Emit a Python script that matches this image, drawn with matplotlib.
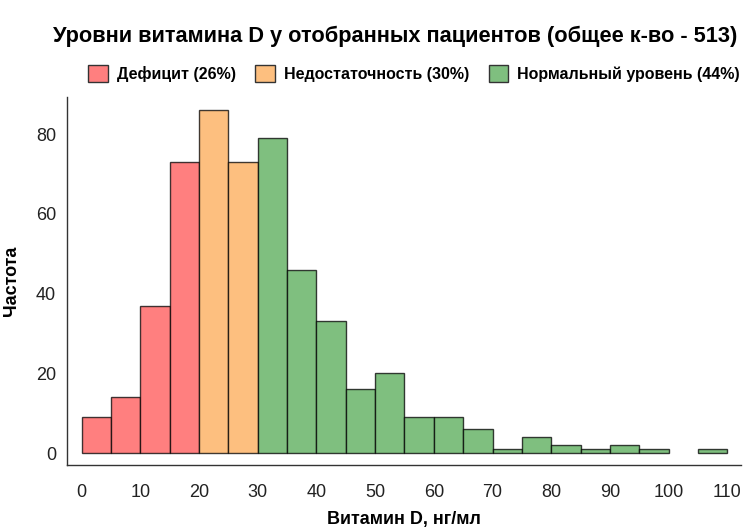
import matplotlib
matplotlib.use("Agg")
import matplotlib.pyplot as plt
from matplotlib.patches import Patch

plt.rcParams['font.family'] = ['Liberation Sans', 'DejaVu Sans']

bin_left = [0, 5, 10, 15, 20, 25, 30, 35, 40, 45, 50, 55, 60, 65, 70, 75, 80, 85, 90, 95, 100, 105]
counts = [9, 14, 37, 73, 86, 73, 79, 46, 33, 16, 20, 9, 9, 6, 1, 4, 2, 1, 2, 1, 0, 1]
bin_width = 5
categories = ["Дефицит (26%)", "Недостаточность (30%)", "Нормальный уровень (44%)"]
cat_colors = ["#ff7f7f", "#fdbf7f", "#7fbf7f"]
thresholds = [20, 30]
xticks = [0, 10, 20, 30, 40, 50, 60, 70, 80, 90, 100, 110]
yticks = [0, 20, 40, 60, 80]

fig = plt.figure(figsize=(7.49, 5.30), dpi=100)
ax = fig.add_axes([0.0895, 0.1226, 0.8995, 0.6944])

def cat_index(x):
    if x < thresholds[0]:
        return 0
    if x < thresholds[1]:
        return 1
    return 2

colors = [cat_colors[cat_index(b)] for b in bin_left]
ax.bar(bin_left, counts, width=bin_width, align='edge', color=colors,
       edgecolor=[(0, 0, 0, 0.75) if h > 0 else (0, 0, 0, 0) for h in counts], linewidth=1.0)

ax.set_xlim(-2.5, 112.3)
ax.set_ylim(-3, 89.3)
ax.set_xticks(xticks)
ax.set_yticks(yticks)
ax.tick_params(axis='both', length=0, labelsize=13, colors='#222222')
ax.tick_params(axis='y', pad=8)
ax.tick_params(axis='x', pad=14)
for s in ['top', 'right']:
    ax.spines[s].set_visible(False)
for s in ['left', 'bottom']:
    ax.spines[s].set_color('#333333')
    ax.spines[s].set_linewidth(1.0)

ax.set_xlabel("Витамин D, нг/мл", fontsize=13, fontweight='bold', labelpad=7)
ax.set_ylabel("Частота", fontsize=13, fontweight='bold', labelpad=11)

fig.text(0.528, 0.932, "Уровни витамина D у отобранных пациентов (общее к-во - 513)",
         ha='center', va='center', fontsize=15.7, fontweight='bold')

handles = [Patch(facecolor=c, edgecolor='#333333', linewidth=1.0) for c in cat_colors]
leg = fig.legend(handles, categories, loc='center', bbox_to_anchor=(0.553, 0.862),
                 ncol=3, frameon=False, prop={'weight': 'bold', 'size': 11.5},
                 handlelength=1.2, handleheight=1.25, columnspacing=1.2, handletextpad=0.6)

fig.savefig("out.png", dpi=100)
